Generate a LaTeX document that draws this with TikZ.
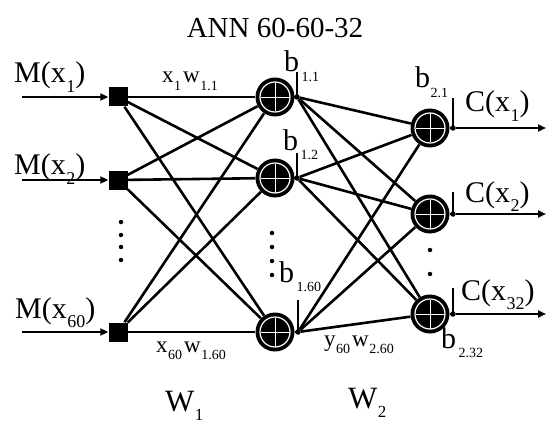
\documentclass[tikz,border=0pt]{standalone}
\usepackage{fontspec}
\setmainfont{Liberation Serif}
\usepackage{tikz}
\usetikzlibrary{arrows.meta}
\newcommand{\lo}[2][16]{\hspace{0.5pt}\raisebox{-0.32em}{\fontsize{#1}{#1}\selectfont #2}}
\tikzset{
  sq/.style={fill=black, minimum size=19pt, inner sep=0pt},
  sumn/.style={circle, fill=black, minimum size=39pt, inner sep=0pt,
    path picture={
      \draw[white, line width=1.2pt] (path picture bounding box.center) circle[radius=15pt];
      \draw[white, line width=0.9pt] ([xshift=-14.5pt]path picture bounding box.center) -- ([xshift=14.5pt]path picture bounding box.center);
      \draw[white, line width=0.9pt] ([yshift=-14.5pt]path picture bounding box.center) -- ([yshift=14.5pt]path picture bounding box.center);
    }},
  jn/.style={circle, fill=black, minimum size=5.5pt, inner sep=0pt},
  dt/.style={circle, fill=black, minimum size=4.5pt, inner sep=0pt},
  wire/.style={line width=2.6pt},
  arr/.style={line width=2.8pt, -{Triangle[length=8pt,width=7pt]}},
  lbl/.style={inner sep=0pt, anchor=base west, font=\fontsize{30}{32}\selectfont},
  elbl/.style={inner sep=0pt, anchor=base west, font=\fontsize{23}{25}\selectfont},
}

\begin{document}
\begin{tikzpicture}[x=1pt, y=-1pt]
  \useasboundingbox (0,0) rectangle (547,428);
  \node[font=\fontsize{29}{30}\selectfont] (title) at (275,28) {ANN 60-60-32};

  % input layer
  \node[sq] (i1) at (118,97) {};
  \node[sq] (i2) at (118,180) {};
  \node[sq] (i60) at (118,332) {};
  \coordinate (m1s) at (22,97);
  \coordinate (m2s) at (22,180);
  \coordinate (m60s) at (22,332);
  \foreach \u/\v in {m1s/i1,m2s/i2,m60s/i60} \draw[arr] (\u) -- (\v);
  \node[lbl] (m1) at (14,83) {M(x\lo[18]{1})};
  \node[lbl] (m2) at (14,175) {M(x\lo[18]{2})};
  \node[lbl] (m60) at (15,318) {M(x\lo[18]{60})};
  \foreach \y [count=\k] in {222,235,247,260} \node[dt] (idot\k) at (121,\y) {};

  % hidden layer
  \node[sumn] (h1) at (275,97) {};
  \node[sumn] (h2) at (275,178) {};
  \node[sumn] (h60) at (275,332) {};
  \node[jn] (h1j) at (297,97) {};
  \node[jn] (h2j) at (297,178) {};
  \node[jn] (h60j) at (298,332) {};
  \coordinate (h1t) at (297,72);
  \coordinate (h2t) at (297,153);
  \coordinate (h60t) at (298,300);
  \foreach \y [count=\k] in {233,247,261,275} \node[dt] (hdot\k) at (272,\y) {};

  % output layer
  \node[sumn] (o1) at (430,128) {};
  \node[sumn] (o2) at (430,214) {};
  \node[sumn] (o32) at (430,314) {};
  \node[jn] (o1j) at (453,128) {};
  \node[jn] (o2j) at (453,214) {};
  \node[jn] (o32j) at (453,314) {};
  \coordinate (o1t) at (453,98);
  \coordinate (o2t) at (453,192);
  \coordinate (o32t) at (453,288);
  \coordinate (c1e) at (546,128);
  \coordinate (c2e) at (546,214);
  \coordinate (c32e) at (546,314);
  \foreach \y [count=\k] in {250,274} \node[dt] (odot\k) at (430,\y) {};

  % connections
  \foreach \u in {i1,i2,i60} \foreach \v in {h1,h2,h60} \draw[wire] (\u) -- (\v);
  \foreach \u in {h1j,h2j,h60j} \foreach \v in {o1,o2,o32} \draw[wire] (\u) -- (\v);
  \foreach \u/\v in {h1/h1j,h2/h2j,h60/h60j,o1/o1j,o2/o2j,o32/o32j} \draw[wire] (\u) -- (\v);
  \foreach \u/\v in {h1j/h1t,h2j/h2t,h60j/h60t,o1j/o1t,o2j/o2t,o32j/o32t} \draw[wire] (\u.center) -- (\v);
  \foreach \u/\v in {o1j/c1e,o2j/c2e,o32j/c32e} \draw[arr] (\u) -- (\v);

  % labels
  \node[lbl] (b11) at (284,72) {b\hspace{2pt}\lo[14]{1.1}};
  \node[lbl] (b12) at (283,150) {b\hspace{2pt}\lo[14]{1.2}};
  \node[lbl] (b160) at (279,282) {b\hspace{2pt}\lo[14]{1.60}};
  \node[lbl] (b21) at (415,88) {b\lo[14]{2.1}};
  \node[lbl] (b232) at (441,348) {b\hspace{2pt}\lo[14]{2.32}};
  \node[lbl] (c1) at (465,112) {C(x\lo[18]{1})};
  \node[lbl] (c2) at (465,202) {C(x\lo[18]{2})};
  \node[lbl] (c32) at (461,300) {C(x\lo[18]{32})};
  \node[elbl] (e11) at (162,83) {x\lo[14]{1}\hspace{2pt}w\lo[14]{1.1}};
  \node[elbl] (e160) at (156,352) {x\lo[14]{60}\hspace{2pt}w\lo[14]{1.60}};
  \node[elbl] (e260) at (324,346) {y\lo[14]{60}\hspace{2pt}w\lo[14]{2.60}};
  \node[lbl, font=\fontsize{31}{32}\selectfont] (w1) at (165,411) {W\lo[17]{1}};
  \node[lbl, font=\fontsize{31}{32}\selectfont] (w2) at (348,408) {W\lo[17]{2}};
\end{tikzpicture}
\end{document}
